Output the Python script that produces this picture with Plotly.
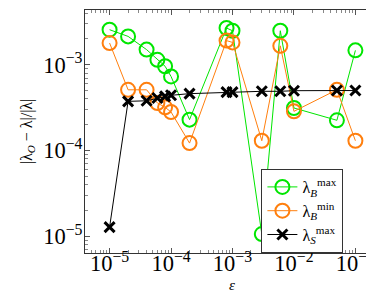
import plotly.graph_objects as go

eps = [1e-5, 2e-5, 4e-5, 6e-5, 8e-5, 1e-4, 2e-4, 8e-4, 1e-3, 3e-3, 6e-3, 1e-2, 5e-2, 1e-1]
lam_B_max = [2.56e-3, 2.14e-3, 1.50e-3, 1.14e-3, 9.6e-4, 7.3e-4, 2.29e-4, 2.68e-3, 2.49e-3, 1.06e-5, 2.49e-3, 3.13e-4, 2.25e-4, 1.47e-3]
lam_B_min = [1.79e-3, 5.1e-4, 5.1e-4, 3.58e-4, 3.19e-4, 2.81e-4, 1.22e-4, 1.91e-3, 1.82e-3, 1.30e-4, 1.66e-3, 2.86e-4, 5.1e-4, 1.30e-4]
lam_S_max = [1.28e-5, 3.74e-4, 3.8e-4, 4.09e-4, 4.28e-4, 4.4e-4, 4.6e-4, 4.8e-4, 4.8e-4, 4.9e-4, 4.9e-4, 4.98e-4, 5.0e-4, 5.0e-4]

names = ["λ<sub><i>B</i></sub><sup>max</sup>", "λ<sub><i>B</i></sub><sup>min</sup>", "λ<sub><i>S</i></sub><sup>max</sup>"]

FONT = "Liberation Serif"
fig = go.Figure()
fig.add_trace(go.Scatter(x=eps, y=lam_B_max, mode="lines+markers", name=names[0],
                         line=dict(color="#00e600", width=1),
                         marker=dict(symbol="circle-open", size=14, color="#00e600", line=dict(width=2))))
fig.add_trace(go.Scatter(x=eps, y=lam_B_min, mode="lines+markers", name=names[1],
                         line=dict(color="#ff7f0e", width=1),
                         marker=dict(symbol="circle-open", size=14, color="#ff7f0e", line=dict(width=2))))
fig.add_trace(go.Scatter(x=eps, y=lam_S_max, mode="lines+markers", name=names[2],
                         line=dict(color="black", width=1),
                         marker=dict(symbol="x-thin-open", size=10, color="black", line=dict(width=3, color="black"))))

axis_common = dict(type="log", showline=True, linecolor="#333", linewidth=1, mirror="allticks",
                   ticks="inside", ticklen=5, tickcolor="#555", showgrid=False, zeroline=False,
                   dtick=1, exponentformat="power", tickfont=dict(family=FONT, size=18, color="black"),
                   minor=dict(ticks="inside", ticklen=3, tickcolor="#888", dtick="D1", showgrid=False))

fig.update_layout(
    width=374, height=291,
    margin=dict(l=77, r=3, t=2, b=46),
    plot_bgcolor="white", paper_bgcolor="white",
    font=dict(family=FONT, color="black"),
    xaxis=dict(axis_common, range=[-5.4, -0.616], ticklabelstandoff=-9),
    yaxis=dict(axis_common, range=[-5.195, -2.362], ticklabelstandoff=-2,
               title=dict(text="|λ<sub><i>O</i></sub> − λ|/|λ|", font=dict(family=FONT, size=16), standoff=6)),
    legend=dict(x=0.6, y=0, xanchor="left", yanchor="bottom", bgcolor="white",
                bordercolor="#333", borderwidth=1, font=dict(family=FONT, size=16),
                tracegroupgap=0, itemwidth=30, entrywidth=0),
    showlegend=True,
    annotations=[dict(text="<i>ε</i>", xref="paper", yref="paper", x=0.5, y=-0.13,
                      xanchor="center", yanchor="middle", showarrow=False,
                      font=dict(family=FONT, size=15))],
)

fig.write_html("out.html")
